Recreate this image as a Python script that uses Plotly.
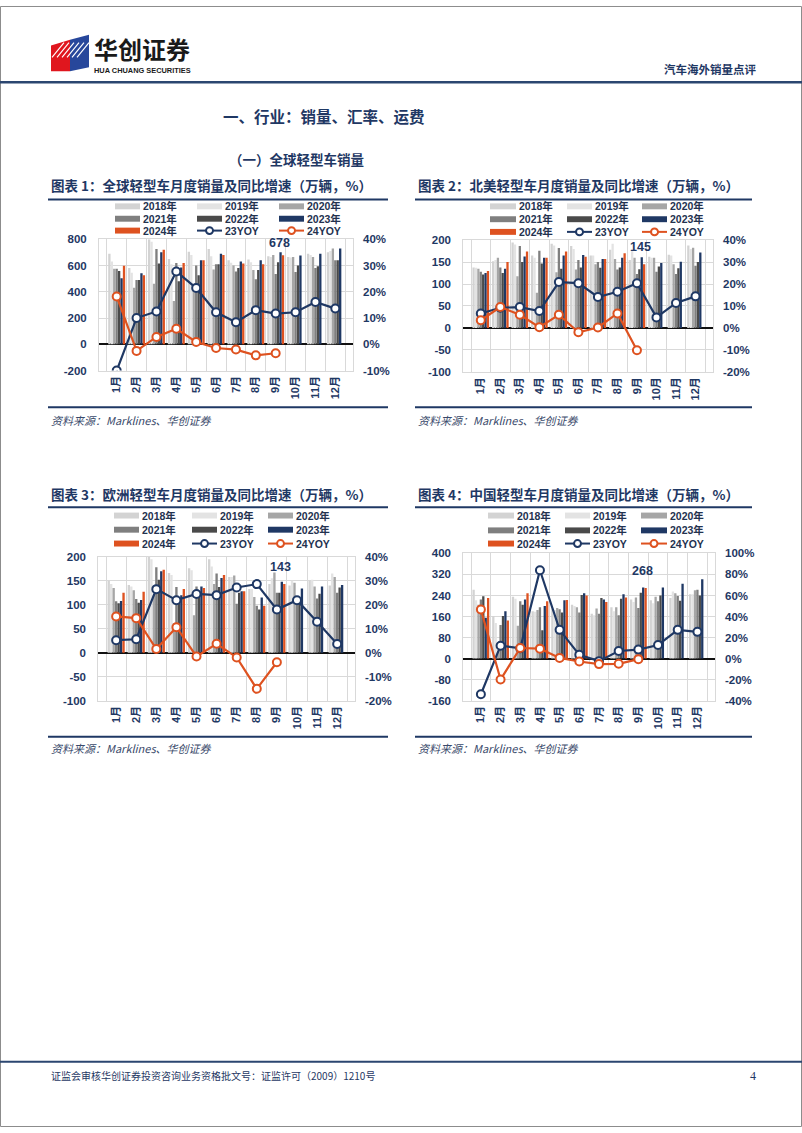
import plotly.graph_objects as go

W, H = 802, 1133

months = ["1月", "2月", "3月", "4月", "5月", "6月", "7月", "8月", "9月", "10月", "11月", "12月"]
years = ["2018年", "2019年", "2020年", "2021年", "2022年", "2023年", "2024年"]
yoy_names = ["23YOY", "24YOY"]

# ---- Chart 1: global light vehicle sales (10k units) ----
glb_2018 = [690, 580, 800, 650, 705, 725, 640, 645, 670, 665, 690, 700]
glb_2019 = [630, 545, 780, 610, 680, 670, 620, 625, 665, 660, 680, 710]
glb_2020 = [575, 430, 460, 330, 460, 570, 600, 565, 680, 665, 665, 730]
glb_2021 = [575, 490, 725, 618, 600, 610, 555, 495, 535, 550, 580, 640]
glb_2022 = [558, 490, 615, 480, 525, 610, 580, 565, 625, 600, 595, 640]
glb_2023 = [503, 540, 700, 585, 640, 690, 630, 640, 700, 675, 690, 730]
glb_2024 = [598, 525, 720, 618, 640, 680, 615, 610, 678]
glb_yoy23 = [-10.0, 10.0, 12.5, 27.7, 21.4, 12.2, 8.4, 13.0, 11.7, 12.2, 16.1, 13.6]
glb_yoy24 = [18.2, -2.5, 2.8, 5.9, 0.9, -1.4, -2.0, -4.2, -3.4]

# ---- Chart 2: North America ----
na_2018 = [138, 152, 195, 165, 192, 187, 165, 178, 155, 162, 167, 188]
na_2019 = [137, 155, 190, 160, 188, 180, 165, 192, 175, 160, 165, 180]
na_2020 = [135, 160, 118, 80, 127, 133, 145, 157, 160, 160, 145, 183]
na_2021 = [128, 138, 187, 176, 182, 155, 150, 133, 123, 128, 123, 142]
na_2022 = [122, 125, 150, 147, 135, 138, 137, 138, 134, 140, 136, 150]
na_2023 = [125, 135, 163, 160, 165, 166, 157, 160, 161, 148, 151, 172]
na_2024 = [130, 150, 174, 160, 174, 162, 157, 170, 145]
na_yoy23 = [6.6, 9.2, 9.5, 7.7, 20.9, 20.4, 14.1, 16.5, 20.4, 4.8, 11.4, 14.4]
na_yoy24 = [3.5, 9.5, 6.0, 0.3, 6.0, -2.0, 0.2, 6.6, -10.2]

# ---- Chart 3: Europe ----
eu_2018 = [150, 141, 205, 166, 176, 195, 158, 133, 143, 140, 150, 140]
eu_2019 = [143, 138, 195, 162, 172, 180, 158, 133, 155, 150, 152, 165]
eu_2020 = [135, 130, 120, 62, 78, 143, 161, 116, 167, 146, 138, 158]
eu_2021 = [107, 112, 178, 137, 138, 165, 102, 98, 125, 118, 113, 125]
eu_2022 = [103, 104, 152, 105, 117, 137, 125, 90, 125, 112, 123, 136]
eu_2023 = [108, 110, 170, 120, 138, 156, 128, 115, 148, 134, 138, 141]
eu_2024 = [125, 127, 173, 133, 135, 162, 128, 98, 143]
eu_yoy23 = [5.2, 5.6, 26.5, 21.9, 24.5, 24.0, 27.2, 28.6, 18.0, 21.9, 12.9, 3.6]
eu_yoy24 = [15.1, 14.4, 1.5, 10.6, -1.6, 3.7, -2.0, -15.1, -4.0]

# ---- Chart 4: China ----
cn_2018 = [262, 162, 235, 180, 190, 205, 170, 195, 225, 222, 230, 245]
cn_2019 = [222, 135, 228, 178, 185, 200, 165, 180, 215, 210, 255, 245]
cn_2020 = [205, 28, 125, 185, 192, 195, 190, 195, 232, 235, 248, 260]
cn_2021 = [225, 128, 218, 195, 188, 175, 170, 165, 192, 218, 238, 262]
cn_2022 = [237, 162, 205, 108, 175, 242, 230, 228, 250, 240, 220, 240]
cn_2023 = [155, 180, 225, 200, 222, 248, 225, 245, 270, 270, 285, 302]
cn_2024 = [230, 145, 248, 218, 223, 240, 215, 232, 268]
cn_yoy23 = [-34.0, 12.2, 9.7, 84.0, 27.3, 3.5, -2.5, 7.2, 8.5, 12.9, 27.3, 25.4]
cn_yoy24 = [46.7, -20.0, 10.0, 9.4, 0.6, -2.8, -5.3, -5.0, -0.6]

titles = [
    "图表 1：全球轻型车月度销量及同比增速（万辆，%）",
    "图表 2：北美轻型车月度销量及同比增速（万辆，%）",
    "图表 3：欧洲轻型车月度销量及同比增速（万辆，%）",
    "图表 4：中国轻型车月度销量及同比增速（万辆，%）",
]
source_text = "资料来源：Marklines、华创证券"

# ---------------- styling ----------------
NAVY = "#1F3864"
ORANGE = "#DE5220"
bar_colors = ["#D3D3D3", "#E3E3E3", "#A6A6A6", "#7F7F7F", "#4A4A4A", NAVY, ORANGE]
GRID = "#D9D9D9"
CJK = "Noto Sans CJK SC"
NUMF = "Liberation Sans, Arial, Noto Sans CJK SC"
TXT = "#24324F"


def X(px):
    return px / W


def Y(py):
    return 1 - py / H


charts = [
    dict(series=[glb_2018, glb_2019, glb_2020, glb_2021, glb_2022, glb_2023, glb_2024],
         y23=glb_yoy23, y24=glb_yoy24, lr=(-200, 800, 200), rr=(-10, 40, 10),
         box=(99, 353, 235.7, 368.5), title_y=181, tline=(48, 388, 195.5), bline=405.5, src_y=418,
         leg_rows=(202.5, 215, 227), leg_cols=((115, 140), (197, 222), (279, 304)), lab_shift=3),
    dict(series=[na_2018, na_2019, na_2020, na_2021, na_2022, na_2023, na_2024],
         y23=na_yoy23, y24=na_yoy24, lr=(-100, 200, 50), rr=(-20, 40, 10),
         box=(463.3, 713, 236.7, 369.7), title_y=181, tline=(415, 752, 195.5), bline=405.5, src_y=418,
         leg_rows=(202.5, 215.5, 228.3), leg_cols=((490, 516), (567, 592), (642, 667)), lab_shift=8),
    dict(series=[eu_2018, eu_2019, eu_2020, eu_2021, eu_2022, eu_2023, eu_2024],
         y23=eu_yoy23, y24=eu_yoy24, lr=(-100, 200, 50), rr=(-20, 40, 10),
         box=(98.3, 355, 556.7, 702), title_y=493, tline=(48, 388, 506.5), bline=738.5, src_y=750,
         leg_rows=(515, 529.3, 543.3), leg_cols=((114, 139), (192, 217), (268, 293)), lab_shift=8),
    dict(series=[cn_2018, cn_2019, cn_2020, cn_2021, cn_2022, cn_2023, cn_2024],
         y23=cn_yoy23, y24=cn_yoy24, lr=(-160, 400, 80), rr=(-40, 100, 20),
         box=(463.3, 715, 553.3, 702), title_y=493, tline=(415, 752, 506.5), bline=738.5, src_y=750,
         leg_rows=(515, 530, 543.3), leg_cols=((488, 514), (565, 590), (641, 667)), lab_shift=8),
]

fig = go.Figure()
layout = {}
shapes = []
annotations = []


def txt(x, y, s, size, color, xanchor="left", weight="normal", style="normal", family=CJK):
    annotations.append(dict(x=X(x), y=Y(y), xref="paper", yref="paper", text=s, showarrow=False,
                            xanchor=xanchor, yanchor="middle", borderpad=0,
                            font=dict(family=family, size=size, color=color, weight=weight, style=style)))


def hline(x0, x1, y, color, width):
    shapes.append(dict(type="line", xref="paper", yref="paper", x0=X(x0), x1=X(x1), y0=Y(y), y1=Y(y),
                       line=dict(color=color, width=width)))


for k, c in enumerate(charts):
    xn = "x" if k == 0 else f"x{k + 1}"
    yl = "y" if k == 0 else f"y{2 * k + 1}"
    yr = f"y{2 * k + 2}"
    xkey = "xaxis" if k == 0 else f"xaxis{k + 1}"
    ylkey = "yaxis" if k == 0 else f"yaxis{2 * k + 1}"
    yrkey = f"yaxis{2 * k + 2}"
    x0, x1, ytop, ybot = c["box"]

    for name, vals, col in zip(years, c["series"], bar_colors):
        fig.add_trace(go.Bar(x=months[:len(vals)], y=vals, name=name, marker_color=col,
                             marker_line_width=0, xaxis=xn, yaxis=yl, showlegend=False))
    for name, vals, col in zip(yoy_names, [c["y23"], c["y24"]], [NAVY, ORANGE]):
        fig.add_trace(go.Scatter(x=months[:len(vals)], y=vals, name=name, mode="lines+markers",
                                 line=dict(color=col, width=2.2),
                                 marker=dict(symbol="circle", size=8, color="white",
                                             line=dict(color=col, width=2)),
                                 xaxis=xn, yaxis=yr, showlegend=False))

    lo, hi, st = c["lr"]
    lt = list(range(lo, hi + 1, st))
    rlo, rhi, rst = c["rr"]
    rt = list(range(rlo, rhi + 1, rst))

    layout[xkey] = dict(domain=[X(x0), X(x1)], anchor=yl, type="category",
                        categoryorder="array", categoryarray=months,
                        tickangle=-90, tickson="boundaries", showgrid=True, gridcolor=GRID, gridwidth=1,
                        showline=True, mirror=True, linecolor=GRID, linewidth=1, ticks="",
                        tickfont=dict(family=NUMF, size=11, color=NAVY, weight="bold"))
    layout[ylkey] = dict(domain=[Y(ybot), Y(ytop)], anchor=xn, range=[lo, hi],
                         tickvals=lt, ticktext=[str(t) for t in lt],
                         showgrid=True, gridcolor=GRID, gridwidth=1,
                         zeroline=True, zerolinecolor="#111111", zerolinewidth=1.6,
                         showline=True, mirror=True, linecolor=GRID, linewidth=1, ticks="",
                         ticklabelstandoff=9,
                         tickfont=dict(family=NUMF, size=11.5, color=NAVY, weight="bold"))
    layout[yrkey] = dict(overlaying=yl, side="right", anchor=xn, range=[rlo, rhi],
                         tickvals=rt, ticktext=[f"{t}%" for t in rt],
                         showgrid=False, zeroline=False, showline=False, ticks="",
                         ticklabelstandoff=9,
                         tickfont=dict(family=NUMF, size=11.5, color=NAVY, weight="bold"))

    # data label for the latest month
    last = c["series"][6]
    annotations.append(dict(x=months[len(last) - 1], y=last[-1], xref=xn, yref=yl, text=str(last[-1]),
                            showarrow=False, yanchor="bottom", xshift=4, yshift=c["lab_shift"],
                            font=dict(family=NUMF, size=12.5, color=NAVY, weight="bold")))

    # title, rules, source
    tx0, tx1, ty = c["tline"]
    txt(tx0 + 2, c["title_y"], titles[k], 13.5, NAVY, weight="bold")
    hline(tx0, tx1, ty, NAVY, 2)
    hline(tx0, tx1, c["bline"], NAVY, 2)
    txt(tx0 + 2, c["src_y"], source_text, 11, "#3A4A6B", style="italic")

    # manual legend (3 x 3 grid)
    entries = [(years[0], "bar", bar_colors[0]), (years[1], "bar", bar_colors[1]), (years[2], "bar", bar_colors[2]),
               (years[3], "bar", bar_colors[3]), (years[4], "bar", bar_colors[4]), (years[5], "bar", bar_colors[5]),
               (years[6], "bar", bar_colors[6]), (yoy_names[0], "line", NAVY), (yoy_names[1], "line", ORANGE)]
    for i, (lab, kind, col) in enumerate(entries):
        ry = c["leg_rows"][i // 3]
        sx0, sx1 = c["leg_cols"][i % 3]
        if kind == "bar":
            shapes.append(dict(type="rect", xref="paper", yref="paper", x0=X(sx0), x1=X(sx1),
                               y0=Y(ry + 3), y1=Y(ry - 3), fillcolor=col, line=dict(width=0)))
        else:
            hline(sx0, sx1, ry, col, 2)
            cx = (sx0 + sx1) / 2
            shapes.append(dict(type="circle", xref="paper", yref="paper", x0=X(cx - 3.5), x1=X(cx + 3.5),
                               y0=Y(ry + 3.5), y1=Y(ry - 3.5), fillcolor="white", line=dict(color=col, width=2)))
        txt(sx1 + 2, ry, lab, 10.5, TXT, weight="bold", family=NUMF)

# ---------------- page decorations ----------------
# page frame
shapes.append(dict(type="rect", xref="paper", yref="paper", x0=X(0.5), x1=X(801.5), y0=Y(1132.5), y1=Y(0.5),
                   line=dict(color="#8C8C8C", width=1), fillcolor="rgba(0,0,0,0)"))
# header rule
hline(0, 802, 77, "#2B4670", 2.5)
# footer rule
hline(0, 802, 1067, "#2B4670", 2)

# logo icon
shapes.append(dict(type="path", xref="paper", yref="paper",
                   path=f"M {X(51)},{Y(40)} L {X(70)},{Y(34)} L {X(70)},{Y(66)} L {X(51)},{Y(66)} Z",
                   fillcolor="#E0161E", line=dict(width=0)))
shapes.append(dict(type="path", xref="paper", yref="paper",
                   path=f"M {X(70)},{Y(34)} L {X(89)},{Y(29)} L {X(89)},{Y(62)} L {X(70)},{Y(66)} Z",
                   fillcolor="#27479B", line=dict(width=0)))
for j in range(6):
    sx = 52 + j * 5
    shapes.append(dict(type="line", xref="paper", yref="paper", x0=X(sx), y0=Y(52), x1=X(sx + 12), y1=Y(37),
                       line=dict(color="white", width=1.2)))

txt(93, 42.5, "华创证券", 24, "#1A1A1A", weight="bold")
txt(93, 65.5, "HUA CHUANG SECURITIES", 7.4, "#1A1A1A", weight="bold", family="Liberation Sans Narrow, Liberation Sans")
txt(757, 64, "汽车海外销量点评", 11.5, NAVY, xanchor="right", weight="bold")

txt(222, 111, "一、行业：销量、汇率、运费", 15.5, NAVY, weight="bold")
txt(228, 155, "（一）全球轻型车销量", 13.5, NAVY, weight="bold")

txt(50, 1081, "证监会审核华创证券投资咨询业务资格批文号：证监许可（2009）1210号", 10, NAVY)
txt(757, 1081, "4", 12, NAVY, xanchor="right", family="Liberation Serif")

fig.update_layout(**layout)
fig.update_layout(width=W, height=H, autosize=False, margin=dict(l=0, r=0, t=0, b=0),
                  paper_bgcolor="white", plot_bgcolor="white", showlegend=False,
                  barmode="group", bargap=0.14, bargroupgap=0.05,
                  shapes=shapes, annotations=annotations,
                  font=dict(family=CJK, color=NAVY))

post = ("document.body.style.margin='0';document.body.style.padding='0';"
        "document.body.style.overflow='hidden';"
        "var d=document.getElementById('{plot_id}');d.style.position='absolute';"
        "d.style.left='0px';d.style.top='0px';")
fig.write_html("out.html", post_script=post, config={"displayModeBar": False})
